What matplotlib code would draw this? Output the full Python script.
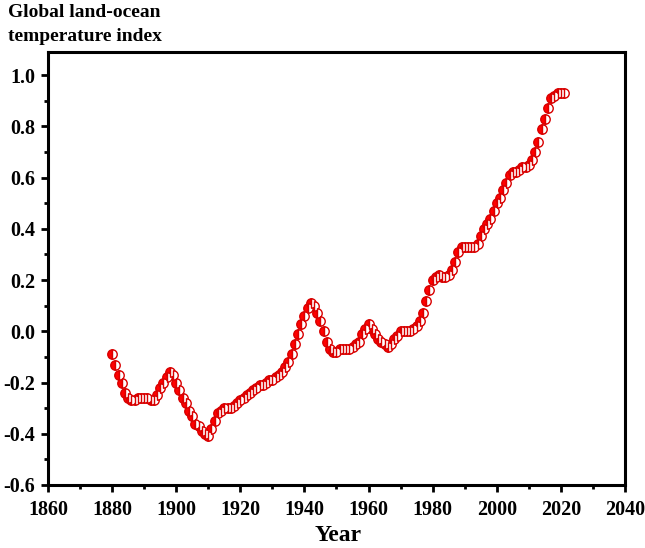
import matplotlib
matplotlib.use("Agg")
import matplotlib.pyplot as plt
from matplotlib.ticker import MultipleLocator, FormatStrFormatter

years = list(range(1880, 2022))
temps = [
    -0.09, -0.13, -0.17, -0.20, -0.24, -0.26, -0.27, -0.27, -0.26, -0.26,
    -0.26, -0.26, -0.27, -0.27, -0.25, -0.22, -0.20, -0.18, -0.16, -0.17,
    -0.20, -0.23, -0.26, -0.28, -0.31, -0.33, -0.36, -0.37, -0.39, -0.40,
    -0.41, -0.38, -0.35, -0.32, -0.31, -0.30, -0.30, -0.30, -0.29, -0.28,
    -0.27, -0.26, -0.25, -0.24, -0.23, -0.22, -0.21, -0.21, -0.20, -0.19,
    -0.19, -0.18, -0.17, -0.16, -0.14, -0.12, -0.09, -0.05, -0.01, 0.03,
    0.06, 0.09, 0.11, 0.10, 0.07, 0.04, 0.00, -0.04, -0.07, -0.08,
    -0.08, -0.07, -0.07, -0.07, -0.07, -0.06, -0.05, -0.04, -0.01, 0.01,
    0.03, 0.01, -0.01, -0.03, -0.04, -0.05, -0.06, -0.05, -0.03, -0.02,
    0.00, 0.00, 0.00, 0.00, 0.01, 0.02, 0.04, 0.07, 0.12, 0.16,
    0.20, 0.21, 0.22, 0.21, 0.21, 0.22, 0.24, 0.27, 0.31, 0.33,
    0.33, 0.33, 0.33, 0.33, 0.34, 0.37, 0.40, 0.42, 0.44, 0.47,
    0.50, 0.52, 0.55, 0.58, 0.61, 0.62, 0.62, 0.63, 0.64, 0.64,
    0.65, 0.67, 0.70, 0.74, 0.79, 0.83, 0.87, 0.91, 0.92, 0.93,
    0.93, 0.93,
]

plt.rcParams['font.family'] = ['Liberation Serif', 'DejaVu Serif']
plt.rcParams['font.weight'] = 'bold'

fig = plt.figure(figsize=(6.45, 5.48), dpi=100)
ax = fig.add_axes([0.0744, 0.115, 0.969 - 0.0744, 0.905 - 0.115])

ax.plot(years, temps, linestyle='none', marker='o', markersize=6.8,
        fillstyle='left', markerfacecolor='#ff0000',
        markerfacecoloralt='white', markeredgecolor='#d80000',
        markeredgewidth=1.0)

ax.set_xlim(1860, 2040)
ax.set_ylim(-0.6, 1.09)
ax.xaxis.set_major_locator(MultipleLocator(20))
ax.xaxis.set_minor_locator(MultipleLocator(10))
ax.yaxis.set_major_locator(MultipleLocator(0.2))
ax.yaxis.set_minor_locator(MultipleLocator(0.1))
ax.yaxis.set_major_formatter(FormatStrFormatter('%.1f'))

for s in ax.spines.values():
    s.set_linewidth(2.2)
ax.tick_params(which='major', direction='out', length=5, width=2,
               labelsize=14.5, pad=4)
ax.tick_params(which='minor', direction='out', length=3, width=2)
ax.tick_params(axis='x', pad=6)
for lab in ax.get_xticklabels() + ax.get_yticklabels():
    lab.set_fontweight('bold')

fig.text(0.524, 0.003, 'Year', ha='center', va='bottom',
         fontsize=17, fontweight='bold')

fig.text(0.012, 0.992, 'Global land-ocean\ntemperature index',
         ha='left', va='top', fontsize=14, fontweight='bold',
         linespacing=1.5)

fig.savefig('out.png', dpi=100)
